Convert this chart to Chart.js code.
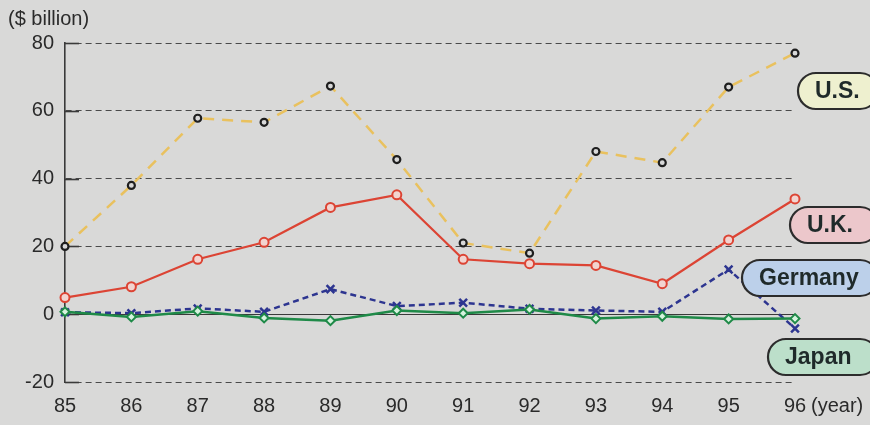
<!DOCTYPE html>
<html>
<head>
<meta charset="utf-8">
<script src="https://cdn.jsdelivr.net/npm/chart.js@4/dist/chart.umd.min.js"></script>
<style>
  html, body { margin: 0; padding: 0; background: #d9d9d8; }
  #wrap { width: 870px; height: 425px; position: relative; }
</style>
</head>
<body>
<div id="wrap"><canvas id="chart" width="870" height="425"></canvas></div>
<script>
// data
const years = ['85', '86', '87', '88', '89', '90', '91', '92', '93', '94', '95', '96'];
const usVals = [20, 38, 57.8, 56.6, 67.3, 45.6, 21, 18, 48, 44.7, 67, 77];
const ukVals = [4.9, 8.1, 16.2, 21.2, 31.5, 35.2, 16.2, 14.9, 14.4, 9, 21.9, 34];
const germanyVals = [0.6, 0.3, 1.7, 0.7, 7.4, 2.4, 3.4, 1.6, 1.1, 0.7, 13.2, -4.2];
const japanVals = [0.7, -0.8, 0.9, -1.1, -1.9, 1.1, 0.3, 1.4, -1.3, -0.6, -1.4, -1.3];
const yTicks = [-20, 0, 20, 40, 60, 80];

// name tags on the right
const tagNames = ['U.S.', 'U.K.', 'Germany', 'Japan'];
const tagFills = ['#eef0cf', '#ecc7cb', '#bcd0ea', '#bcdfca'];

const FONT = '"Liberation Sans", Arial, sans-serif';

// background, tick stubs, solid zero line, titles, tags
const decor = {
  id: 'decor',
  beforeDraw(chart) {
    const { ctx, width, height } = chart;
    ctx.save();
    ctx.fillStyle = '#d9d9d8';
    ctx.fillRect(0, 0, width, height);
    ctx.restore();
  },
  beforeDatasetsDraw(chart) {
    const { ctx, chartArea } = chart;
    const y = chart.scales.y;
    ctx.save();
    ctx.strokeStyle = '#3a3a3a';
    ctx.lineWidth = 1.6;
    yTicks.forEach(v => {
      const py = Math.round(y.getPixelForValue(v)) + 0.5;
      ctx.beginPath();
      ctx.moveTo(chartArea.left, py);
      ctx.lineTo(chartArea.left + 14, py);
      ctx.stroke();
    });
    // zero line
    ctx.lineWidth = 1.2;
    const z = Math.round(y.getPixelForValue(0)) + 0.5;
    ctx.beginPath();
    ctx.moveTo(chartArea.left, z);
    ctx.lineTo(chartArea.right, z);
    ctx.stroke();
    ctx.restore();
  },
  afterDraw(chart) {
    const { ctx } = chart;
    ctx.save();
    ctx.fillStyle = '#2a2a2a';
    ctx.textBaseline = 'middle';
    ctx.textAlign = 'left';
    ctx.font = '20px ' + FONT;
    ctx.fillText('($ billion)', 8, 19);
    ctx.fillText('(year)', 811, 406);

    const boxes = [
      { x: 798, y: 73, w: 80 },
      { x: 790, y: 207, w: 88 },
      { x: 742, y: 260, w: 136 },
      { x: 768, y: 339, w: 110 },
    ];
    boxes.forEach((b, i) => {
      const h = 36;
      ctx.beginPath();
      ctx.roundRect(b.x, b.y, b.w, h, 18);
      ctx.fillStyle = tagFills[i];
      ctx.fill();
      ctx.lineWidth = 2.2;
      ctx.strokeStyle = '#2c2c2c';
      ctx.stroke();
      ctx.fillStyle = '#1f2a2a';
      ctx.font = 'bold 23px ' + FONT;
      ctx.textAlign = 'left';
      ctx.fillText(tagNames[i], b.x + 17, b.y + h / 2 + 1);
    });
    ctx.restore();
  }
};

new Chart(document.getElementById('chart'), {
  type: 'line',
  data: {
    labels: years,
    datasets: [
      {
        label: 'U.S.',
        data: usVals,
        borderColor: '#e9c15e',
        borderWidth: 2.5,
        borderDash: [11, 8],
        pointStyle: 'circle',
        pointRadius: 3.5,
        pointBorderWidth: 2.2,
        pointBorderColor: '#1e1e1e',
        pointBackgroundColor: '#d8d8d8',
        tension: 0,
        order: 1,
      },
      {
        label: 'U.K.',
        data: ukVals,
        borderColor: '#dc4434',
        borderWidth: 2.2,
        pointStyle: 'circle',
        pointRadius: 4.5,
        pointBorderWidth: 2,
        pointBorderColor: '#dc4434',
        pointBackgroundColor: '#f2d4d0',
        tension: 0,
        order: 2,
      },
      {
        label: 'Germany',
        data: germanyVals,
        borderColor: '#2d3590',
        borderWidth: 2.5,
        borderDash: [6, 4],
        pointStyle: 'crossRot',
        pointRadius: 5.5,
        pointBorderWidth: 2.5,
        pointBorderColor: '#2d3590',
        tension: 0,
        order: 3,
      },
      {
        label: 'Japan',
        data: japanVals,
        borderColor: '#1f8a48',
        borderWidth: 2.5,
        pointStyle: 'rectRot',
        pointRadius: 4.5,
        pointBorderWidth: 2,
        pointBorderColor: '#1f8a48',
        pointBackgroundColor: '#d6f3de',
        tension: 0,
        order: 0,
      },
    ],
  },
  options: {
    responsive: false,
    animation: false,
    events: [],
    layout: { padding: { top: 43, right: 75, left: 0, bottom: 0 } },
    plugins: {
      legend: { display: false },
      tooltip: { enabled: false },
    },
    scales: {
      x: {
        type: 'category',
        offset: false,
        afterFit: s => { s.height = 43; },
        grid: { display: false, drawTicks: false },
        border: { display: false },
        ticks: { color: '#2a2a2a', font: { family: FONT, size: 20 }, padding: 12, maxRotation: 0 },
      },
      y: {
        min: -20,
        max: 80,
        afterFit: s => { s.width = 65; },
        afterBuildTicks: s => { s.ticks = yTicks.map(v => ({ value: v })); },
        grid: { color: '#4a4a4a', lineWidth: 1, drawTicks: false },
        border: { display: true, color: '#3a3a3a', width: 1.6, dash: [6, 4] },
        ticks: { color: '#2a2a2a', font: { family: FONT, size: 20 }, padding: 11 },
      },
    },
  },
  plugins: [decor],
});
</script>
</body>
</html>
